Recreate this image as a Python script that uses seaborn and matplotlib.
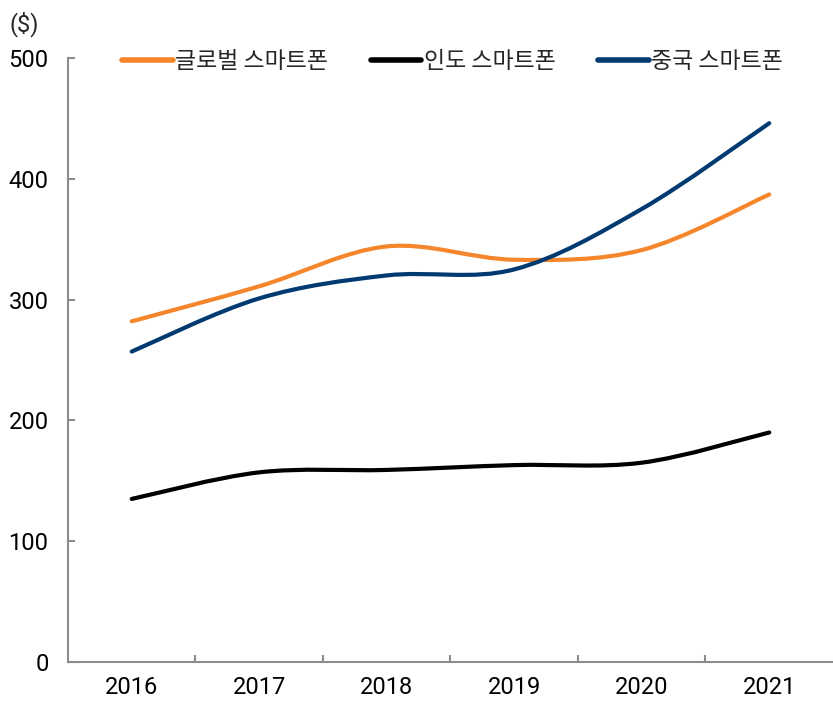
import numpy as np
import pandas as pd
import matplotlib
matplotlib.use("Agg")
import matplotlib.pyplot as plt
from matplotlib.path import Path
from matplotlib.patches import PathPatch
from matplotlib.lines import Line2D
import seaborn as sns

# ── Data (average selling price, $) ──────────────────────────────────────────
years = ["2016", "2017", "2018", "2019", "2020", "2021"]
global_asp = [282, 311, 344, 333, 341, 387]
india_asp = [135, 157, 159, 163, 165, 190]
china_asp = [257, 301, 320, 325, 375, 446]

series_names = ["글로벌 스마트폰", "인도 스마트폰", "중국 스마트폰"]
colors = ["#F5862B", "#000000", "#003A70"]

df = pd.DataFrame({
    "year": years * 3,
    "idx": list(range(len(years))) * 3,
    "price": global_asp + india_asp + china_asp,
    "series": [s for s in series_names for _ in years],
})

sns.set_theme(style="white")
plt.rcParams["font.family"] = ["Noto Sans CJK KR", "DejaVu Sans"]
num_font = ["Roboto", "DejaVu Sans"]

fig = plt.figure(figsize=(8.33, 7.01), dpi=100)
ax = fig.add_axes([0.0816, 0.0556, 0.9184, 0.8617])

# seaborn sets up the scales; the straight lines are then swapped for
# Excel-style smoothed curves through the same points
sns.lineplot(data=df, x="idx", y="price", hue="series", palette=colors,
             hue_order=series_names, linewidth=3, legend=False, ax=ax)


def smooth_path(x, y):
    pts = np.column_stack([x, y]).astype(float)
    n = len(pts)
    verts = [pts[0]]
    codes = [Path.MOVETO]
    for i in range(n - 1):
        p0 = pts[i - 1] if i > 0 else pts[i]
        p1 = pts[i]
        p2 = pts[i + 1]
        p3 = pts[i + 2] if i + 2 < n else pts[i + 1]
        c1 = p1 + (p2 - p0) / 6.0
        c2 = p2 - (p3 - p1) / 6.0
        verts += [c1, c2, p2]
        codes += [Path.CURVE4] * 3
    return Path(verts, codes)


for line, col in zip(list(ax.lines), colors):
    xd, yd = line.get_xdata(), line.get_ydata()
    line.set_visible(False)
    patch = PathPatch(smooth_path(xd, yd), facecolor="none", edgecolor=col,
                      linewidth=3, capstyle="round", joinstyle="round")
    ax.add_patch(patch)

ax.set_xlim(-0.5, len(years) - 0.5)
ax.set_ylim(0, 500)
ax.set_yticks(range(0, 501, 100))
ax.set_xticks(range(len(years)))
ax.set_xticklabels(years)
ax.set_xticks(np.arange(0.5, len(years) - 1, 1.0), minor=True)
ax.set_xlabel("")
ax.set_ylabel("")

spine_col = "#8C8C8C"
for s in ["top", "right"]:
    ax.spines[s].set_visible(False)
for s in ["left", "bottom"]:
    ax.spines[s].set_color(spine_col)
    ax.spines[s].set_linewidth(1.5)

ax.tick_params(axis="y", direction="in", length=5, width=1.5, color=spine_col,
               left=True, labelsize=17, pad=14, labelcolor="black")
ax.tick_params(axis="x", which="major", length=0, labelsize=17, pad=10,
               labelcolor="black")
ax.tick_params(axis="x", which="minor", direction="in", length=5, width=1.5,
               color=spine_col, bottom=True)
for lab in ax.get_xticklabels() + ax.get_yticklabels():
    lab.set_family(num_font)

handles = [Line2D([0], [0], color=c, linewidth=4, solid_capstyle="round")
           for c in colors]
ax.legend(handles, series_names, loc="upper center", bbox_to_anchor=(0.503, 1.047),
          ncol=3, frameon=False, fontsize=16.5, handlelength=2.2,
          handletextpad=0.12, columnspacing=1.85)

fig.text(0.012, 0.966, "($)", fontsize=17, family=num_font, ha="left", va="center")

fig.savefig("out.png", dpi=100)
